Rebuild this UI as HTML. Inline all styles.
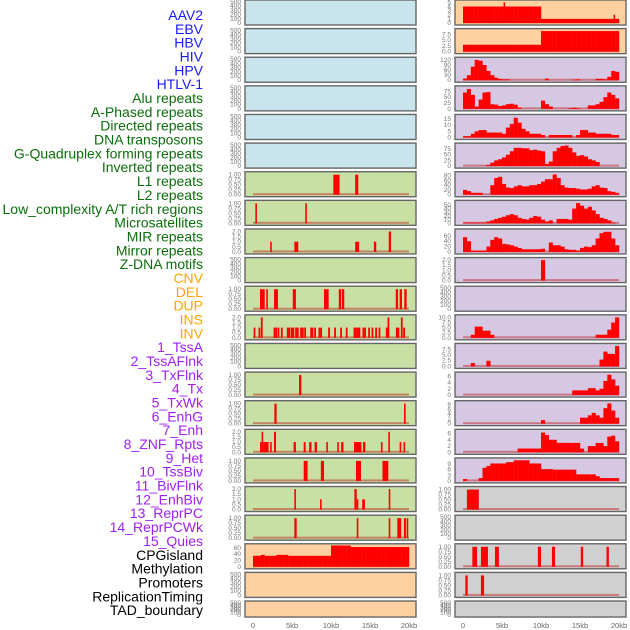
<!DOCTYPE html>
<html><head><meta charset="utf-8"><style>
html,body{margin:0;padding:0;background:#fff;}
svg{display:block;font-family:"Liberation Sans",sans-serif;}
</style></head><body>
<svg id="chart" width="630" height="630" viewBox="0 0 630 630"></svg>
<script>
// ---- labels ----
const labelNames = ["AAV2","EBV","HBV","HIV","HPV","HTLV-1","Alu repeats","A-Phased repeats","Directed repeats","DNA transposons","G-Quadruplex forming repeats","Inverted repeats","L1 repeats","L2 repeats","Low_complexity A/T rich regions","Microsatellites","MIR repeats","Mirror repeats","Z-DNA motifs","CNV","DEL","DUP","INS","INV","1_TssA","2_TssAFlnk","3_TxFlnk","4_Tx","5_TxWk","6_EnhG","7_Enh","8_ZNF_Rpts","9_Het","10_TssBiv","11_BivFlnk","12_EnhBiv","13_ReprPC","14_ReprPCWk","15_Quies","CPGisland","Methylation","Promoters","ReplicationTiming","TAD_boundary"];
const labelGroups = [6,13,5,15,5];
const groupColors = ["#1a1aff","#0a6e0a","#ffa500","#a020f0","#000000"];

// ---- x axis ----
const xTicks = [0,5,10,15,20];
const xTickLabels = ["0","5kb","10kb","15kb","20kb"];

// ---- right column profiles (40 bins of 0.5kb) ----
const hivR = [10,30,80,120,115,90,55,30,15,8,5,5,0,0,0,0,0,0,0,0,0,10,0,0,0,0,0,0,3,5,0,0,0,0,8,8,5,20,55,50];
const hpvR = [70,85,60,10,40,70,72,20,18,12,15,20,22,18,5,0,0,0,0,0,35,20,10,0,0,0,0,3,5,3,0,0,15,15,20,30,50,70,60,45];
const htlvR = [1,1,3,5,6,6,4,4,4,4,3,8,11,16,12,7,5,3,3,3,2,0,2,2,2,2,2,2,0,2,6,6,4,4,3,3,3,3,2,2];
const aluR = [0,0,0,0,0,0,5,15,25,30,38,50,65,80,80,78,78,70,72,68,65,10,20,65,80,88,90,80,60,45,48,42,30,25,18,0,0,0,0,0];
const aphR = [20,15,8,8,8,0,0,40,70,75,45,30,28,35,40,35,35,40,40,45,55,65,65,85,70,40,30,28,28,25,22,22,25,35,40,30,28,15,12,8];
const dirR = [2,2,2,2,2,2,5,8,12,15,18,22,25,22,15,12,10,15,20,18,10,5,8,0,12,12,12,10,40,55,48,40,45,35,25,15,12,8,2,0];
const dnaR = [55,40,5,5,5,5,20,45,55,50,30,28,25,20,15,10,10,10,10,10,12,0,35,25,25,20,10,8,8,5,15,20,18,25,50,70,75,75,50,25];
const invR = [0,0,0,0,0,0,0,0,0,0,0,0,0,0,0,0,0,0,0,0,2,0,0,0,0,0,0,0,0,0,0,0,0,0,0,0,0,0,0,0];
const l2R = [0,0,1.5,5.5,5.5,3.5,3.5,1.5,0,0,0,0,0,0,0,0,0,0,0,0,0,0,0,0,0,0,0,0,0,0,0,0,0,0,1.5,1.5,1.5,4,7.5,10];
const lowR = [0,0,1.5,0,0,0,2.5,0,0,0,0,0,0,0,0,0,0,0,0,0,0,0,0,0,0,0,0,0,0,0,0,0,0,0,0,3,6.5,5.5,5.5,9];
const microR = [0,0,0,0,0,0,0,0,0,0,0,0,0,0,0,0,0,0,0,0,0,0,0,0,0,0,0,0,1.5,1.5,1.5,1.5,2.2,2.2,1.5,2,4.5,6.5,5,3];
const mirR = [0,0,0,0,0,0,0,0,0,0,0,0,0,0,0,0,0,0,0,0,1.5,0,0,0,0,0,0,0,0,0,2.5,2.5,3.5,4.5,3.5,2.5,6.5,8.5,5.5,2.5];
const mirrorR = [0,0,0,0,0,0,0,0,0,0,0,0,0,0,1.2,1.2,1.2,1.2,1.2,1.2,6.3,5.5,4,4,3,3,3,3,3,3,1.2,0,2,2,3,3,2,5,5.3,3.5];
const zdnaR = [1,0,0,0,1.5,7,8,9.3,9.3,9.3,9.3,10,10,11,11,11,11,9.3,9.3,9.3,6.3,6.3,6.3,6,6,6,6,6,6,3.5,3.5,3.5,3.5,3.5,2.5,1.5,1.5,1.5,1.5,1.5];
const cnvR = [0,1,1,1,0,0,0,0,0,0,0,0,0,0,0,0,0,0,0,0,0,0,0,0,0,0,0,0,0,0,0,0,0,0,0,0,0,0,0,0];
const ebvR = [3,3,3,3,3,3,3,3,3,3,3,3,3,3,3,3,3,3,3,3,9,9,9,9,9,9,9,9,9,9,9,9,9,9,9,9,9,9,9,9];
const aavR = [4,4,4,4,4,4,4,4,4,4,4,4,4,4,4,4,4,4,4,4,1,1,1,1,1,1,1,1,1,1,1,1,1,1,1,1,1,1,1,1];
const aavSpikes = [[5.2,5.4,5],[19.3,19.5,2]];
const insR = [[1.2,1.8,1],[2.3,3.2,1],[4.1,4.6,1],[9.6,10,1],[11.4,11.8,1],[15.1,15.4,1],[18.4,18.7,1]];
const invSpikesR = [[0.3,0.6,1],[2.3,2.7,1]];

// ---- left column spikes [startKb, endKb, height] ----
const l1L = [[10.3,11.1,1],[13.1,13.5,1]];
const l2L = [[0.3,0.5,1],[6.7,6.9,1]];
const lowL = [[2.2,2.4,1],[5.3,5.8,1],[13.1,13.6,1],[15.5,15.8,1],[17.4,17.7,2]];
const mirL = [[0.9,1.5,1],[1.7,1.9,1],[2.7,3.2,1],[5.1,5.5,1],[9.1,9.7,1],[11,11.3,1],[11.4,11.7,1],[18.3,18.6,1],[18.8,19.1,1],[19.4,19.7,1]];
const insKb = [0.18,0.81,1.11,2.74,2.95,3.25,3.68,4.44,4.66,4.96,5.17,5.51,5.73,6.15,6.37,6.67,7.44,7.61,7.95,8.5,8.72,9.74,10.51,11.28,12,12.99,13.2,13.42,13.63,14.14,14.36,14.87,15.3,15.77,16.2,17.13,17.35,18.42,18.63,19.06,19.36];
const insH = [1,1,2,1,1,1,1,1,1,1,1,1,1,1,1,1,1,1,1,1,1,1,1,1,1,1,1,1,1,1,1,1,1,1,1,1,2,1,1,2,1];
const tss2L = [[5.9,6.2,1]];
const tx3L = [[2.74,3.03,1],[19.36,19.57,1]];
const tx4L = [[0.9,1.1,1],[1.1,1.3,2],[1.3,2.0,1],[2.2,2.4,1],[2.7,2.95,2],[5.2,5.5,1],[6.5,6.75,1],[7.2,7.5,1],[7.9,8.2,1],[9.4,9.6,1],[10.8,11,1],[11.3,11.6,1],[12.95,13.9,1],[14.1,14.4,1],[16.4,16.6,1],[17.35,17.5,2],[18.8,19,1],[19.3,19.5,1]];
const txwkL = [[6.5,7.0,1],[8.7,9.1,1],[13.2,13.85,1],[16.6,17.35,1]];
const enhgL = [[5.3,5.5,2],[8.6,8.8,1],[13.0,13.3,2],[13.3,13.5,1],[14.0,14.35,1],[17.4,17.6,2]];
const enhL = [[5.3,5.6,1],[13.3,13.5,1],[17.4,17.6,1],[18.5,19.0,1],[19.35,19.6,1],[19.7,19.9,1]];
const cpgL = [35,35,38,35,35,35,38,38,38,35,35,35,35,35,35,35,35,35,35,35,68,68,68,68,68,63,63,63,63,63,63,63,63,63,63,63,63,63,63,63];

// ---- panel ticks ----
const ticksEmpty = [0,100,200,300,400,500];
const ticks1 = [0,0.25,0.5,0.75,1];
const ticks2 = [0,0.5,1,1.5,2];

const BLUE="#c8e4ec", GREEN="#c8e0a4", ORANGE="#ffd0a0", PURPLE="#d6c8e2", GREY="#d0d0d0";
const leftPanels = [
 {bg:BLUE},{bg:BLUE},{bg:BLUE},{bg:BLUE},{bg:BLUE},{bg:BLUE},
 {bg:GREEN,sp:l1L,t:ticks1,top:1.05,f:2},{bg:GREEN,sp:l2L,t:ticks1,top:1.05,f:2},
 {bg:GREEN,sp:lowL,t:ticks2,top:2.05,f:1},{bg:GREEN},
 {bg:GREEN,sp:mirL,t:ticks1,top:1.05,f:2},{bg:GREEN,ins:true,t:ticks2,top:2.05,f:1},
 {bg:GREEN},{bg:GREEN,sp:tss2L,t:ticks1,top:1.05,f:2},{bg:GREEN,sp:tx3L,t:ticks1,top:1.05,f:2},
 {bg:GREEN,sp:tx4L,t:ticks2,top:2.05,f:1},{bg:GREEN,sp:txwkL,t:ticks1,top:1.05,f:2},
 {bg:GREEN,sp:enhgL,t:ticks2,top:2.05,f:1},{bg:GREEN,sp:enhL,t:ticks1,top:1.05,f:2},
 {bg:ORANGE,pr:cpgL,t:[0,20,40,60],top:67,f:0},{bg:ORANGE},{bg:ORANGE}
];
const rightPanels = [
 {bg:ORANGE,pr:aavR,sp:aavSpikes,t:[0,1,2,3,4,5],top:5.1,f:0},
 {bg:ORANGE,pr:ebvR,t:[0,2.5,5,7.5],top:9.2,f:1},
 {bg:PURPLE,pr:hivR,t:[0,30,60,90,120],top:124,f:0},
 {bg:PURPLE,pr:hpvR,t:[0,25,50,75],top:90,f:0},
 {bg:PURPLE,pr:htlvR,t:[0,5,10,15],top:17,f:0},
 {bg:PURPLE,pr:aluR,t:[0,25,50,75],top:92,f:0},
 {bg:PURPLE,pr:aphR,t:[0,20,40,60,80],top:88,f:0},
 {bg:PURPLE,pr:dirR,t:[0,10,20,30,40,50],top:57,f:0},
 {bg:PURPLE,pr:dnaR,t:[0,20,40,60],top:78,f:0},
 {bg:PURPLE,pr:invR,t:ticks2,top:2.05,f:1},
 {bg:PURPLE},
 {bg:PURPLE,pr:l2R,t:[0,2.5,5,7.5,10],top:10.3,f:1},
 {bg:PURPLE,pr:lowR,t:[0,2.5,5,7.5],top:9.2,f:1},
 {bg:PURPLE,pr:microR,t:[0,2,4,6],top:6.7,f:0},
 {bg:PURPLE,pr:mirR,t:[0,2,4,6,8],top:8.8,f:0},
 {bg:PURPLE,pr:mirrorR,t:[0,2,4,6],top:6.7,f:0},
 {bg:PURPLE,pr:zdnaR,t:[0,3,6,9],top:11.2,f:0},
 {bg:GREY,pr:cnvR,t:ticks1,top:1.05,f:2},
 {bg:GREY},
 {bg:GREY,sp:insR,t:ticks1,top:1.05,f:2},
 {bg:GREY,sp:invSpikesR,t:ticks1,top:1.05,f:2},
 {bg:GREY}
];

const NS="http://www.w3.org/2000/svg";
const svg=document.getElementById('chart');
function mk(tag,attrs,parent){const e=document.createElementNS(NS,tag);for(const k in attrs)e.setAttribute(k,attrs[k]);(parent||svg).appendChild(e);return e;}

// labels
let li=0;
labelGroups.forEach((n,g)=>{for(let k=0;k<n;k++){const t=mk('text',{x:203,y:20+li*13.84,'text-anchor':'end','font-size':'14',fill:groupColors[g]});t.textContent=labelNames[li];


li++;}});

const ROWP=28.62;
function rowTop(i){return i*ROWP;}
function rowH(i){return i===21?16:25;}

function drawPanel(p,i,x0,col){
  const top=rowTop(i), h=rowH(i), w=171;
  const g=mk('g',{});
  
  
  mk('rect',{x:x0,y:top,width:w,height:h,fill:p.bg,stroke:'#666','stroke-width':1.4},g);
  const xs=kb=>x0+8+kb*7.8;
  const base=top+h-2, span=h-4;
  const ticks=p.t||ticksEmpty, tmax=p.t?p.top:500;
  const ys=v=>base-v/tmax*span;
  ticks.forEach(v=>{const t=mk('text',{x:x0-4,y:ys(v)+2,'text-anchor':'end','font-size':'6.5',fill:'#777'},g);
    t.textContent=p.t?v.toFixed(p.f):String(v);
    
    });
  if(!p.t) return;
  mk('rect',{x:xs(0),y:base-1.5,width:xs(20)-xs(0),height:2,fill:'rgba(190,20,20,0.45)'},g);
  if(p.pr){p.pr.forEach((v,b)=>{if(v<=0)return;const r=mk('rect',{x:xs(b*0.5),y:ys(v),width:xs(b*0.5+0.5)-xs(b*0.5)+0.2,height:base-ys(v),fill:'#ff0000'},g);
    
    });}
  const spikes=p.sp||[];
  spikes.forEach(s=>{const r=mk('rect',{x:xs(s[0]),y:ys(s[2]),width:Math.max(1.6,xs(s[1])-xs(s[0])),height:base-ys(s[2]),fill:'#ff0000'},g);
    
    });
  if(p.ins){insKb.forEach((k,j)=>{const r=mk('rect',{x:xs(k)-0.8,y:ys(insH[j]),width:1.8,height:base-ys(insH[j]),fill:'#ff0000'},g);
    
    });}
}
leftPanels.forEach((p,i)=>drawPanel(p,i,245,'left'));
rightPanels.forEach((p,i)=>drawPanel(p,i,455,'right'));

// x axes
[245,455].forEach(x0=>{xTicks.forEach((k,j)=>{const t=mk('text',{x:x0+8+k*7.8,y:628,'text-anchor':'middle','font-size':'7.5',fill:'#666'});t.textContent=xTickLabels[j];
  
  });});
</script>
</body></html>
